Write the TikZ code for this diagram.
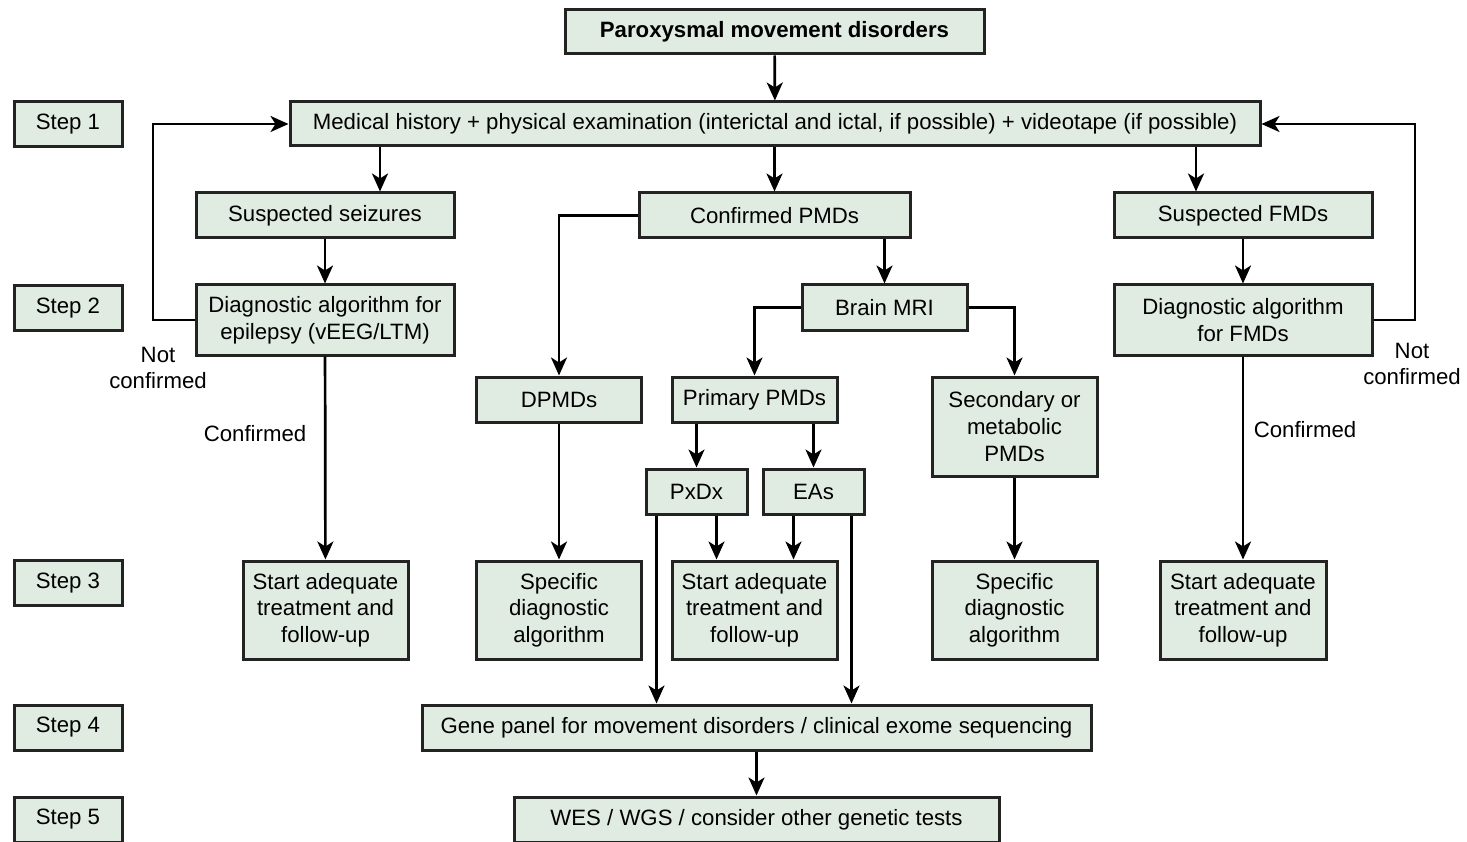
\documentclass[tikz,border=0pt]{standalone}
\usepackage{fontspec}
\setmainfont{Liberation Sans}
\usepackage{xcolor}
\usepackage{tikz}
\usetikzlibrary{arrows.meta,positioning,calc}
\definecolor{boxfill}{RGB}{224, 235, 225}
\definecolor{boxline}{RGB}{35, 35, 35}

\tikzset{
    box/.style={draw=boxline, fill=boxfill, line width=3pt, align=center, inner sep=0pt, minimum height=45},
    arr/.style={-{Stealth[length=18pt, width=16pt, inset=5pt]}, line width=2.7pt},
    lbl/.style={align=center, inner sep=0pt},
}

\begin{document}
\begin{tikzpicture}[x=1pt, y=-1pt, font=\fontsize{22.2pt}{26.7pt}\selectfont]
    \useasboundingbox (0,0) rectangle (1467,842);

    % steps
    \node[box, minimum width=108] (step1) at (68,124) {Step 1};
    \node[box, minimum width=108] (step2) at (68,308) {Step 2};
    \node[box, minimum width=108] (step3) at (68,583) {Step 3};
    \node[box, minimum width=108] (step4) at (68,727.5) {Step 4};
    \node[box, minimum width=108] (step5) at (68,819.5) {Step 5};

    \node[box, minimum width=419, minimum height=44] (title) at (774.5,32) {\bfseries Paroxysmal movement disorders};
    \node[box, minimum width=970, minimum height=44] (medical) at (775,124) {Medical history + physical examination (interictal and ictal, if possible) + videotape (if possible)};

    \node[box, minimum width=258] (seiz) at (325,215.5) {Suspected seizures};
    \node[box, minimum width=271] (cpmd) at (774.5,215.5) {Confirmed PMDs};
    \node[box, minimum width=258] (sfmd) at (1243,215.5) {Suspected FMDs};

    \node[box, minimum width=258, minimum height=70] (diagep) at (325,320) {Diagnostic algorithm for\\epilepsy (vEEG/LTM)};
    \node[box, minimum width=165] (mri) at (884.5,307.5) {Brain MRI};
    \node[box, minimum width=258, minimum height=70] (diagfmd) at (1243,320) {Diagnostic algorithm\\for FMDs};

    \node[box, minimum width=165] (dpmd) at (559,399.5) {DPMDs};
    \node[box, minimum width=165] (prim) at (754.5,399.5) {Primary PMDs};
    \node[box, minimum width=165, minimum height=99] (second) at (1014.5,426.5) {Secondary or\\metabolic\\PMDs};

    \node[box, minimum width=101] (pxdx) at (696.5,491.5) {PxDx};
    \node[box, minimum width=101] (eas) at (813.5,491.5) {EAs};

    \node[box, minimum width=165, minimum height=98] (startL) at (325.5,610) {Start adequate\\treatment and\\follow-up};
    \node[box, minimum width=165, minimum height=98] (specL) at (559,610) {Specific\\diagnostic\\algorithm};
    \node[box, minimum width=165, minimum height=98] (startM) at (754.5,610) {Start adequate\\treatment and\\follow-up};
    \node[box, minimum width=165, minimum height=98] (specR) at (1014.5,610) {Specific\\diagnostic\\algorithm};
    \node[box, minimum width=166, minimum height=98] (startR) at (1243,610) {Start adequate\\treatment and\\follow-up};

    \node[box, minimum width=669] (gene) at (756.5,727.5) {Gene panel for movement disorders / clinical exome sequencing};
    \node[box, minimum width=485] (wes) at (756.5,819.5) {WES / WGS / consider other genetic tests};

    % labels
    \node[lbl] (notL) at (158,368) {Not\\confirmed};
    \node[lbl] (notR) at (1412,364) {Not\\confirmed};
    \node[lbl] (confL) at (255,434) {Confirmed};
    \node[lbl] (confR) at (1305,430) {Confirmed};

    \coordinate (loopL) at (153,320);
    \coordinate (loopR) at (1415,320);

    % arrows
    \draw[arr] (title) -- (medical);
    \draw[arr] ([xshift=55]seiz.north |- medical.south) -- ([xshift=55]seiz.north);
    \draw[arr] (medical.south -| cpmd.north) -- (cpmd.north);
    \draw[arr] ([xshift=-47]sfmd.north |- medical.south) -- ([xshift=-47]sfmd.north);
    \draw[arr] (seiz) -- (diagep);
    \draw[arr] (sfmd) -- (diagfmd);
    \draw[arr] (diagep.west) -- (loopL) |- (medical.west);
    \draw[arr] (diagfmd.east) -- (loopR) |- (medical.east);
    \draw[arr] (cpmd.west) -| (dpmd.north);
    \draw[arr] (mri.north |- cpmd.south) -- (mri.north);
    \draw[arr] (mri.west) -| (prim.north);
    \draw[arr] (mri.east) -| (second.north);
    \draw[arr] (pxdx.north |- prim.south) -- (pxdx.north);
    \draw[arr] (eas.north |- prim.south) -- (eas.north);
    \draw[arr] ([xshift=20]pxdx.south) -- ([xshift=20]pxdx.south |- startM.north);
    \draw[arr] ([xshift=-20]eas.south) -- ([xshift=-20]eas.south |- startM.north);
    \draw[arr] ([xshift=-40]pxdx.south) -- ([xshift=-40]pxdx.south |- gene.north);
    \draw[arr] ([xshift=38]eas.south) -- ([xshift=38]eas.south |- gene.north);
    \draw[arr] (diagep) -- (startL);
    \draw[arr] (diagfmd) -- (startR);
    \draw[arr] (dpmd) -- (specL);
    \draw[arr] (second) -- (specR);
    \draw[arr] (gene) -- (wes);
\end{tikzpicture}
\end{document}
